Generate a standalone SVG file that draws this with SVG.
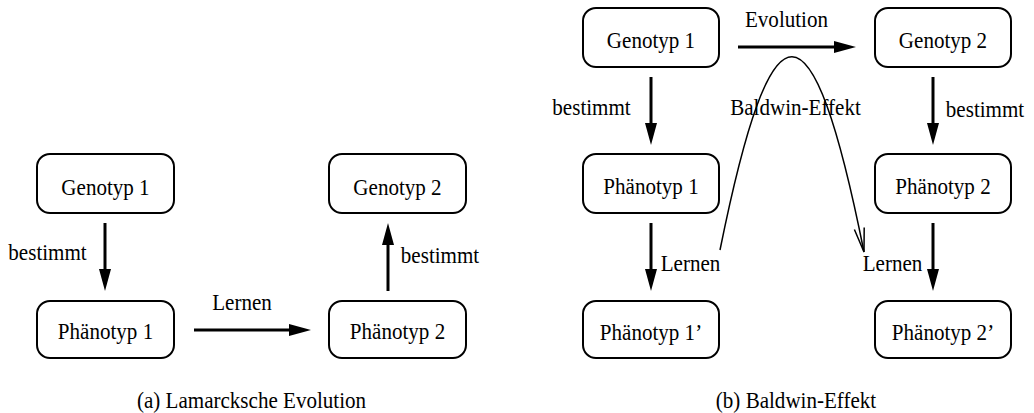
<svg xmlns="http://www.w3.org/2000/svg" width="1034" height="413" viewBox="0 0 1034 413">
  <style>
    /* glyphs are set slightly narrow: 23.4px tall, squeezed to 90% width */
    text { font-family: "Liberation Serif", "Times New Roman", Times, serif; font-size: 23.4px; fill: #000; text-anchor: middle; }
    .box { fill: #fff; stroke: #000; stroke-width: 2; }
    .edge { stroke: #000; stroke-width: 3; fill: none; marker-end: url(#head); }
    .curve { stroke: #000; stroke-width: 1.5; fill: none; marker-end: url(#open); }
  </style>
  <defs>
    <marker id="head" markerUnits="userSpaceOnUse" markerWidth="22" markerHeight="12" refX="7" refY="6" orient="auto">
      <path d="M0,0 L22,6 L0,12 Z" fill="#000"/>
    </marker>
    <marker id="open" markerUnits="userSpaceOnUse" markerWidth="26" markerHeight="12" refX="24" refY="6" orient="auto" overflow="visible">
      <path d="M0,1 L24,6 L0,11" fill="none" stroke="#000" stroke-width="1.5"/>
    </marker>
  </defs>

  <!-- (a) Lamarcksche Evolution -->
  <g id="a-genotyp1"><rect class="box" x="37" y="154" width="137" height="59" rx="13"/><text transform="translate(105.5,195) scale(0.9,1)">Genotyp 1</text></g>
  <g id="a-genotyp2"><rect class="box" x="329" y="154" width="137" height="59" rx="13"/><text transform="translate(397.5,195) scale(0.9,1)">Genotyp 2</text></g>
  <g id="a-phaenotyp1"><rect class="box" x="37" y="301" width="137" height="57" rx="13"/><text transform="translate(105.5,339) scale(0.9,1)">Phänotyp 1</text></g>
  <g id="a-phaenotyp2"><rect class="box" x="329" y="301" width="137" height="57" rx="13"/><text transform="translate(397.5,339) scale(0.9,1)">Phänotyp 2</text></g>

  <!-- (b) Baldwin-Effekt -->
  <g id="b-genotyp1"><rect class="box" x="583" y="8" width="136" height="59" rx="13"/><text transform="translate(651,48) scale(0.9,1)">Genotyp 1</text></g>
  <g id="b-genotyp2"><rect class="box" x="875" y="8" width="136" height="59" rx="13"/><text transform="translate(943,48) scale(0.9,1)">Genotyp 2</text></g>
  <g id="b-phaenotyp1"><rect class="box" x="583" y="154" width="136" height="59" rx="13"/><text transform="translate(651,194) scale(0.9,1)">Phänotyp 1</text></g>
  <g id="b-phaenotyp2"><rect class="box" x="875" y="154" width="136" height="59" rx="13"/><text transform="translate(943,194) scale(0.9,1)">Phänotyp 2</text></g>
  <g id="b-phaenotyp1p"><rect class="box" x="583" y="301" width="136" height="57" rx="13"/><text transform="translate(651,340) scale(0.9,1)">Phänotyp 1’</text></g>
  <g id="b-phaenotyp2p"><rect class="box" x="875" y="301" width="136" height="57" rx="13"/><text transform="translate(943,340) scale(0.9,1)">Phänotyp 2’</text></g>

  <g id="connectors">
    <!-- left panel -->
    <line class="edge" x1="105" y1="223" x2="105" y2="276"/>
    <line class="edge" x1="388" y1="291" x2="388" y2="238"/>
    <line class="edge" x1="194" y1="330" x2="296" y2="330"/>
    <text transform="translate(47.5,260) scale(0.9,1)">bestimmt</text>
    <text transform="translate(440,263) scale(0.9,1)">bestimmt</text>
    <text transform="translate(242,310) scale(0.9,1)">Lernen</text>

    <!-- right panel -->
    <line class="edge" x1="738" y1="47" x2="841" y2="47"/>
    <line class="edge" x1="651" y1="77" x2="651" y2="130"/>
    <line class="edge" x1="933" y1="77" x2="933" y2="130"/>
    <line class="edge" x1="651" y1="223" x2="651" y2="276"/>
    <line class="edge" x1="933" y1="223" x2="933" y2="276"/>
    <path class="curve" d="M720,250 C772,-8 812,-8 864,252"/>
    <text transform="translate(786.5,27) scale(0.9,1)">Evolution</text>
    <text transform="translate(591.5,115) scale(0.9,1)">bestimmt</text>
    <text transform="translate(985,117) scale(0.9,1)">bestimmt</text>
    <text transform="translate(795.5,115) scale(0.9,1)">Baldwin-Effekt</text>
    <text transform="translate(690.5,271) scale(0.9,1)">Lernen</text>
    <text transform="translate(892.5,271) scale(0.9,1)">Lernen</text>
  </g>

  <!-- captions -->
  <text transform="translate(251.5,408) scale(0.9,1)">(a) Lamarcksche Evolution</text>
  <text transform="translate(796,408) scale(0.9,1)">(b) Baldwin-Effekt</text>
</svg>
